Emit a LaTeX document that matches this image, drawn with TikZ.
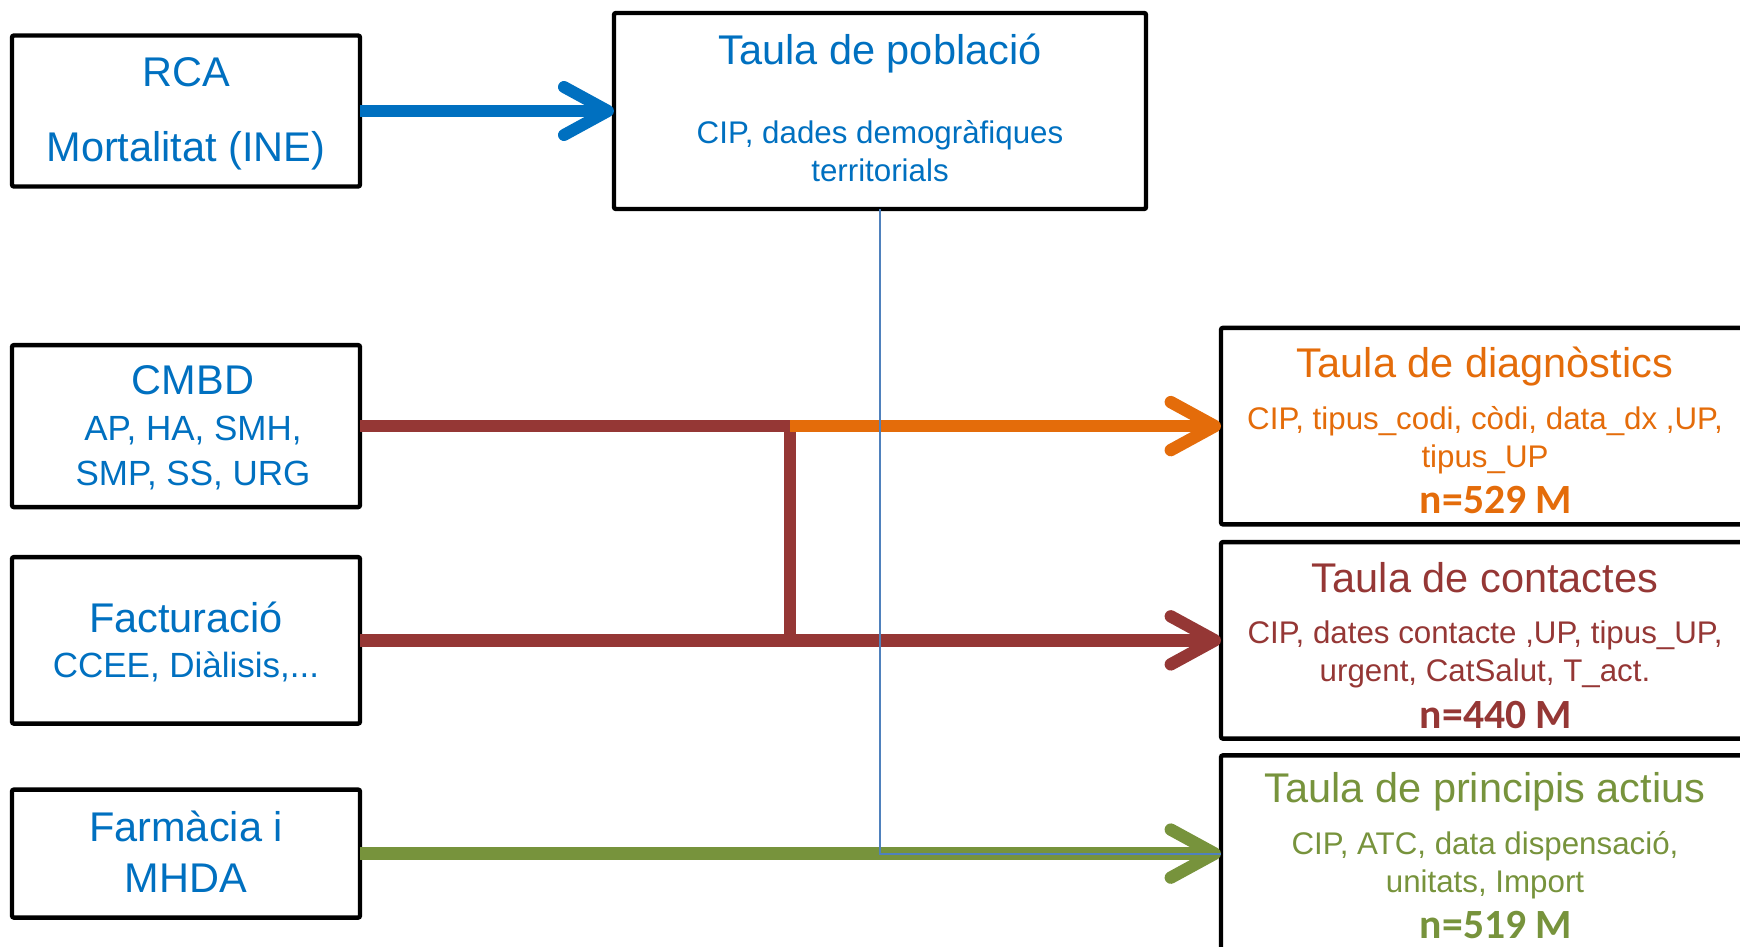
\documentclass[tikz,border=0pt]{standalone}
\usepackage{fontspec}
\setmainfont{Liberation Sans}
\newfontfamily\numfont{Carlito}
\usepackage{tikz}
\usetikzlibrary{arrows.meta,positioning}

\definecolor{srcblue}{HTML}{0070C0}
\definecolor{dxorange}{HTML}{E46C0A}
\definecolor{ctbrown}{HTML}{953735}
\definecolor{pagreen}{HTML}{77933C}
\definecolor{linkblue}{HTML}{4F81BD}

\newcommand\fbig{\fontsize{20.75pt}{26pt}\selectfont}
\newcommand\fmed{\fontsize{17.5pt}{22.5pt}\selectfont}
\newcommand\fsmall{\fontsize{15.65pt}{18.9pt}\selectfont}
\newcommand\fnum{\numfont\bfseries\fontsize{20.8pt}{25pt}\selectfont}
\newcommand\tstrut{\rule{0pt}{19.8pt}}

\begin{document}
\begin{tikzpicture}[x=0.5pt, y=-0.5pt]
    \tikzstyle{src}=[rectangle, draw=black, line width=2.2pt, rounded corners=1pt, align=center, text=srcblue, minimum width=174pt, inner sep=2pt, outer sep=0pt]
    \tikzstyle{tbl}=[rectangle, draw=black, line width=2.2pt, rounded corners=1pt, align=center, minimum width=264pt, minimum height=98.25pt, inner sep=2pt, outer sep=0pt]
    \tikzstyle{flow}=[line width=6.2pt, -{Straight Barb[length=22pt, width=24pt, round]}]
    \tikzstyle{feed}=[line width=6.2pt]

    \clip (0,0) rectangle (1740,947);

      \node[src, minimum height=75.5pt, text depth=1pt, font={\fontsize{20.75pt}{37.5pt}\selectfont}] (rca) at (186,111) {RCA\\Mortalitat (INE)};
      \node[src, minimum width=266pt, minimum height=98pt, text depth=3.4pt, font=\fsmall] (pobl) [right=127pt of rca] {{\fbig Taula de població}\\[21pt]CIP, dades demogràfiques\\territorials};
      \node[src, minimum height=81pt, text depth=1pt, font=\fmed] (cmbd) [below=79.3pt of rca] {{\fbig\hspace*{7pt}CMBD}\\[0.5pt]\hspace*{7pt}AP, HA, SMH,\\\hspace*{7pt}SMP, SS, URG};
      \node[src, minimum height=83.25pt, text depth=0.4pt, font=\fmed] (fact) [below=25pt of cmbd] {{\fbig Facturació}\\CCEE, Diàlisis,...};
      \node[src, minimum height=64pt, text depth=2.2pt, font={\fontsize{20.75pt}{25.5pt}\selectfont}] (farm) [below=33pt of fact] {Farmàcia i\\MHDA};
      \node[tbl, text=dxorange, font=\fsmall] (diag) [right=430.5pt of cmbd] {{\fbig\tstrut Taula de diagnòstics}\\[7pt]CIP, tipus\_codi, còdi, data\_dx ,UP,\\tipus\_UP\\[4.3pt]{\fnum\hspace{11pt}n=529 M}};
      \node[tbl, text=ctbrown, font=\fsmall] (cont) [right=430.5pt of fact] {{\fbig\tstrut Taula de contactes}\\[7pt]CIP, dates contacte ,UP, tipus\_UP,\\urgent, CatSalut, T\_act.\\[4.3pt]{\fnum\hspace{11pt}n=440 M}};
      \node[tbl, text=pagreen, font=\fsmall] (princ) [right=430.5pt of farm] {{\fbig\rule{0pt}{17pt}Taula de principis actius}\\[7pt]CIP, ATC, data dispensació,\\unitats, Import\\[4.3pt]{\fnum\hspace{11pt}n=519 M}};
      \coordinate (split) at ([xshift=215pt]cmbd.east);

      \draw[flow, srcblue, line width=6pt] (rca) -- (pobl);
      \draw[feed, ctbrown, line join=round] (cmbd.east) -- (split) -- (split |- fact.east);
      \draw[flow, dxorange] (split) -- (diag);
      \draw[flow, ctbrown] (fact) -- (cont);
      \draw[flow, pagreen] (farm) -- (princ);
      \draw[linkblue, line width=0.9pt] (pobl.south) |- (princ.west);
\end{tikzpicture}
\end{document}
